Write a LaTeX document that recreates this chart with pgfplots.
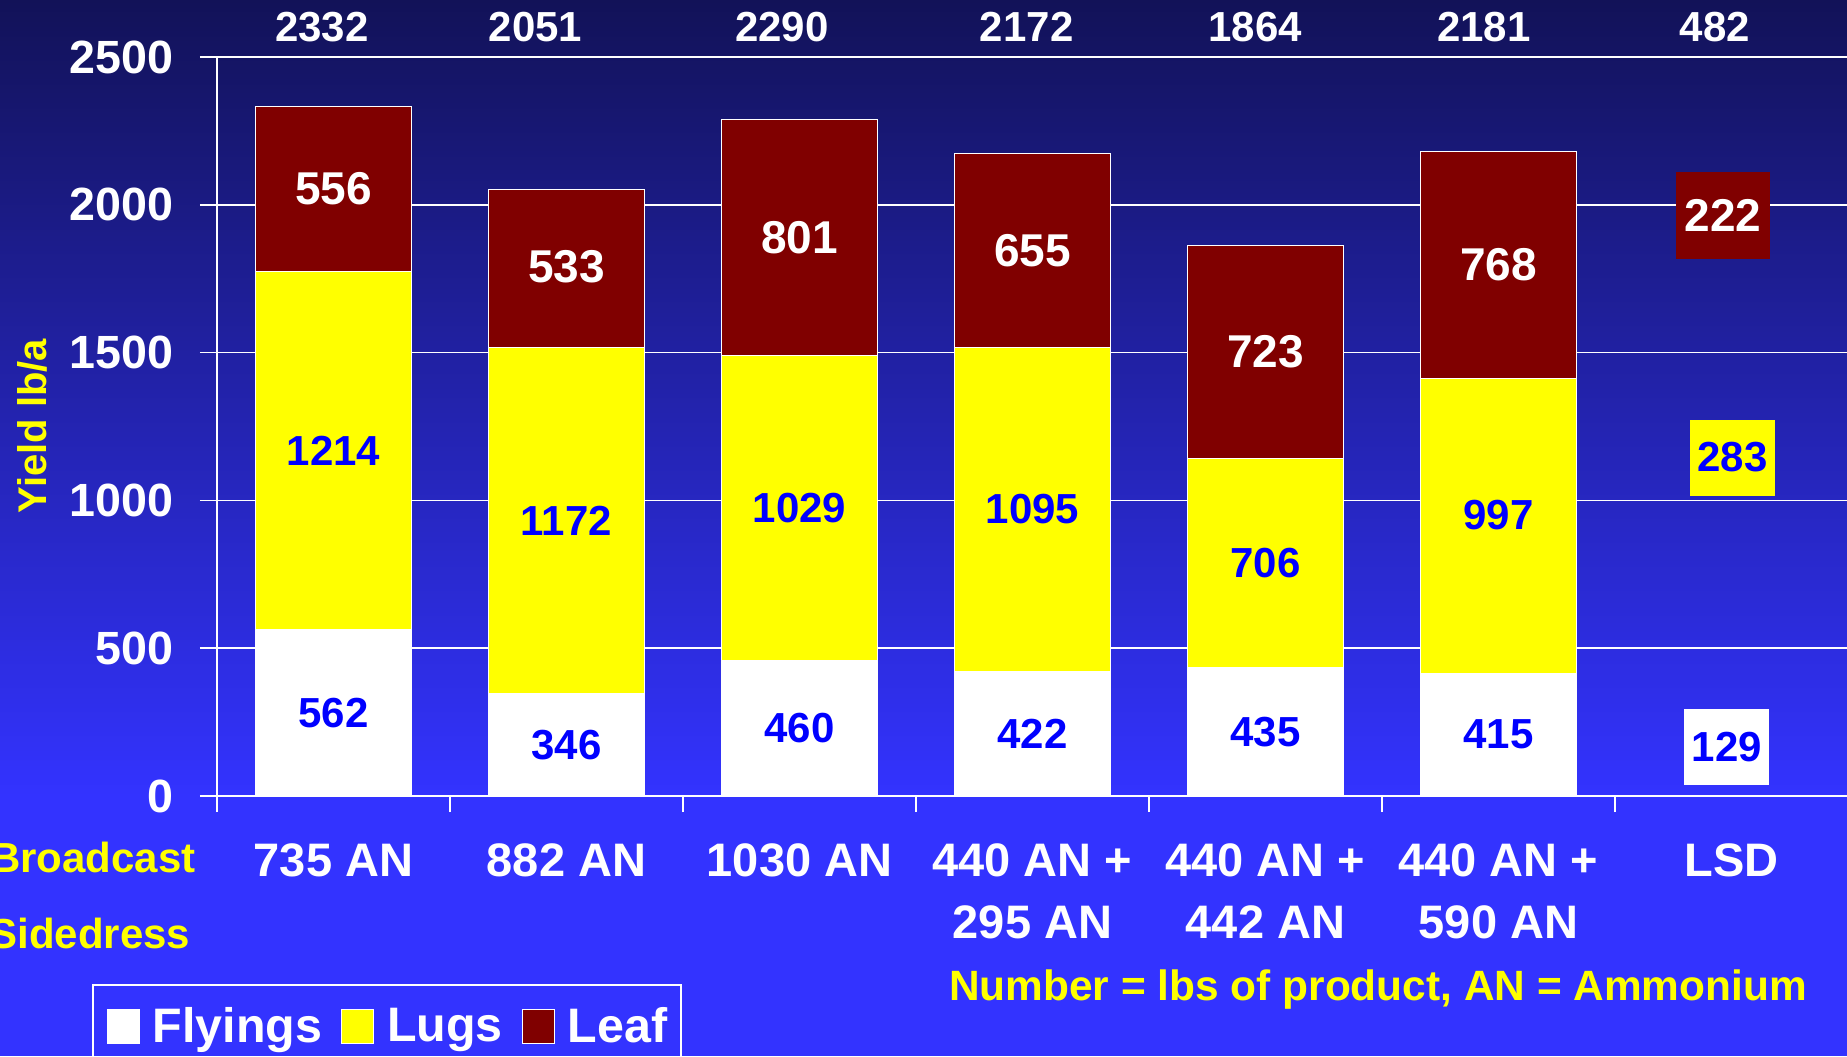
\documentclass[border=0pt]{standalone}
\usepackage{pgfplots}
\usepackage{pgfplotstable}
\pgfplotsset{compat=1.18}
\usepackage{fontspec}
\setmainfont{Liberation Sans}
\definecolor{leaf}{RGB}{128,0,0}
\definecolor{lugs}{RGB}{255,255,0}
\definecolor{bgtop}{RGB}{18,18,88}
\definecolor{bgbot}{RGB}{51,51,255}
\definecolor{lblblue}{RGB}{0,0,255}

\pgfplotstableread{
x fly lug leaf
0 562 1214 556
1 346 1172 533
2 460 1029 801
3 422 1095 655
4 435 706 723
5 415 997 768
}\bars

\pgfplotstableread{
x y lab
0 281 562
1 173 346
2 230 460
3 211 422
4 217.5 435
5 207.5 415
}\flylab

\pgfplotstableread{
x y lab
0 1169 1214
1 932 1172
2 974.5 1029
3 969.5 1095
4 788 706
5 950 997
}\luglab

\pgfplotstableread{
x y lab
0 2054 556
1 1790 533
2 1889.5 801
3 1844.5 655
4 1502.5 723
5 1796 768
}\leaflab

\pgfplotstableread{
x y lab
-0.05 2551 2332
0.867 2551 2051
1.924 2551 2290
2.975 2551 2172
3.956 2551 1864
4.937 2551 2181
5.928 2551 482
}\totlab

\begin{document}
\begin{tikzpicture}
\path[use as bounding box] (0pt,0pt) rectangle (923.5pt,528pt);
\fill[bgbot] (0pt,0pt) rectangle (923.5pt,528pt);
\shade[top color=bgtop, bottom color=bgbot] (0pt,130pt) rectangle (923.5pt,528pt);

\begin{axis}[
  at={(108.5pt,130pt)}, anchor=south west,
  scale only axis, width=815.5pt, height=369.5pt,
  xmin=-0.5, xmax=6.5, ymin=0, ymax=2500,
  ybar stacked, bar width=0.672,
  axis lines*=left,
  axis line style={white, line width=0.75pt},
  ymajorgrids, grid style={white, line width=0.75pt},
  tick align=outside,
  major tick length=8.5pt, minor tick length=8pt,
  tick style={white, line width=0.75pt},
  xtick={0,...,6},
  xticklabels={735 AN, 882 AN, 1030 AN, {440 AN +\\295 AN}, {440 AN +\\442 AN}, {440 AN +\\590 AN}, LSD},
  major x tick style={draw=none},
  minor xtick={-0.5,0.5,...,5.5},
  ytick={0,500,...,2500},
  yticklabels={0,500,1000,1500,2000,2500},
  xticklabel style={text=white, font=\fontsize{23.5}{31}\selectfont\bfseries, align=center, anchor=north, inner sep=0pt, yshift=-15pt},
  yticklabel style={text=white, font=\fontsize{23.3}{23.3}\selectfont\bfseries, anchor=east, inner sep=0pt, xshift=-13pt},
  clip=false,
  legend columns=3,
  legend cell align=left,
  legend style={
    at={(axis description cs:-0.0766,-0.2544)}, anchor=north west,
    draw=white, line width=1pt, fill=none, text=white,
    font=\fontsize{24.2}{24.2}\selectfont\bfseries,
    inner xsep=7pt, inner ysep=11pt,
    nodes={inner sep=0pt},
    /tikz/every even column/.append style={column sep=9.7pt},
    /tikz/every odd column/.append style={column sep=6.3pt},
  },
]
\addplot[fill=white, draw=white, line width=0.5pt,
  legend image code/.code={\draw[fill=white,draw=white,line width=0.5pt] (0pt,-8.5pt) rectangle (16pt,8.5pt);}]
  table[x=x,y=fly]{\bars};
\addlegendentry{Flyings}
\addplot[fill=lugs, draw=white, line width=0.5pt,
  legend image code/.code={\draw[fill=lugs,draw=white,line width=0.5pt] (0pt,-8.5pt) rectangle (16pt,8.5pt);}]
  table[x=x,y=lug]{\bars};
\addlegendentry{Lugs}
\addplot[fill=leaf, draw=white, line width=0.5pt,
  legend image code/.code={\draw[fill=leaf,draw=white,line width=0.5pt] (0pt,-8.5pt) rectangle (16pt,8.5pt);}]
  table[x=x,y=leaf]{\bars};
\addlegendentry{Leaf}
\end{axis}

\begin{axis}[
  at={(108.5pt,130pt)}, anchor=south west,
  scale only axis, width=815.5pt, height=369.5pt,
  xmin=-0.5, xmax=6.5, ymin=0, ymax=2500,
  hide axis, clip=false,
  point meta=explicit symbolic,
  nodes near coords,
  every node near coord/.append style={anchor=center, inner sep=0pt, font=\fontsize{21}{21}\selectfont\bfseries},
]
\addplot[only marks, mark=none, every node near coord/.append style={text=lblblue}]
  table[x=x,y=y,meta=lab]{\flylab};
\addplot[only marks, mark=none, every node near coord/.append style={text=lblblue}]
  table[x=x,y=y,meta=lab]{\luglab};
\addplot[only marks, mark=none, every node near coord/.append style={text=white, font=\fontsize{23}{23}\selectfont\bfseries}]
  table[x=x,y=y,meta=lab]{\leaflab};
\addplot[only marks, mark=none, every node near coord/.append style={text=white, anchor=base}]
  table[x=x,y=y,meta=lab]{\totlab};
\addplot[only marks, mark=none, every node near coord/.append style={text=white, fill=leaf, minimum width=47pt, minimum height=43.5pt, font=\fontsize{23}{23}\selectfont\bfseries}]
  table[x=x,y=y,meta=lab]{
x y lab
5.963 1963 222
};
\addplot[only marks, mark=none, every node near coord/.append style={text=lblblue, fill=lugs, minimum width=42.5pt, minimum height=38pt}]
  table[x=x,y=y,meta=lab]{
x y lab
6.004 1145 283
};
\addplot[only marks, mark=none, every node near coord/.append style={text=lblblue, fill=white, minimum width=42.5pt, minimum height=38pt}]
  table[x=x,y=y,meta=lab]{
x y lab
5.98 165 129
};
\end{axis}

\node[rotate=90, text=lugs, font=\fontsize{20}{20}\selectfont\bfseries] at (16pt,315pt) {Yield lb/a};
\node[anchor=base west, inner sep=0pt, text=lugs, font=\fontsize{21}{21}\selectfont\bfseries] at (-5.2pt,92pt) {Broadcast};
\node[anchor=base west, inner sep=0pt, text=lugs, font=\fontsize{21}{21}\selectfont\bfseries] at (-5.5pt,54pt) {Sidedress};
\node[anchor=base, inner sep=0pt, text=lugs, font=\fontsize{21.2}{21.2}\selectfont\bfseries] at (689pt,28pt) {Number = lbs of product, AN = Ammonium};
\end{tikzpicture}
\end{document}
